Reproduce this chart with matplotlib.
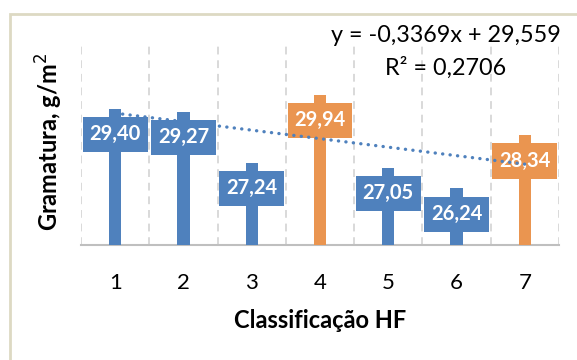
import matplotlib.pyplot as plt
import numpy as np
from matplotlib.patches import Rectangle

# data
classes = [1, 2, 3, 4, 5, 6, 7]
gramatura = [29.40, 29.27, 27.24, 29.94, 27.05, 26.24, 28.34]
highlight = [False, False, False, True, False, False, True]
eq_line = "y = -0,3369x + 29,559"
r2_line = "R² = 0,2706"

blue = '#4F81BD'
orange = '#EA9550'
plt.rcParams['font.family'] = ['Lato', 'DejaVu Sans']

fig = plt.figure(figsize=(5.77, 3.6), dpi=100)
ax = fig.add_axes([81/577, 115/360, 478/577, 202/360])

cols = [orange if h else blue for h in highlight]
ax.bar(classes, gramatura, width=0.18, color=cols, zorder=3)

# data label boxes
for x, v, h in zip(classes, gramatura, highlight):
    z = 4 if h else 6
    c = orange if h else blue
    ax.add_patch(Rectangle((x - 0.475, v - 0.32 - 1.39), 0.95, 1.39,
                           facecolor=c, edgecolor='none', zorder=z))
    ax.text(x, v - 1.0, f"{v:.2f}".replace('.', ','), ha='center', va='center',
            color='white', fontsize=14.5, fontweight='bold', zorder=z + 0.5)

# linear trend
k, b = np.polyfit(classes, gramatura, 1)
xt = np.array([classes[0], classes[-1]])
ax.plot(xt, k * xt + b, color=blue, lw=2.4, linestyle=(0, (0.05, 2.2)),
        dash_capstyle='round', zorder=5)

ax.text(5.84, 32.28, eq_line, ha='center', va='center', fontsize=16.8,
        zorder=7, clip_on=False)
ax.text(5.84, 31.01, r2_line, ha='center', va='center', fontsize=16.8,
        zorder=7, clip_on=False)

# vertical dashed grid between categories
for g in np.arange(0.5, 7.6, 1):
    ax.axvline(g, color='#D9D9D9', lw=1.4, linestyle=(0, (4, 3)), zorder=1)

ax.set_xlim(0.5, 7.5)
ax.set_ylim(24, 32)
ax.set_xticks(classes)
ax.set_yticks([])
ax.tick_params(axis='x', length=0, pad=20, labelsize=16)
for s in ['top', 'right', 'left']:
    ax.spines[s].set_visible(False)
ax.spines['bottom'].set_color('#BFBFBF')
ax.spines['bottom'].set_linewidth(1.5)

ax.set_xlabel('Classificação HF', fontsize=17, fontweight='bold', labelpad=12)
ax.set_ylabel('Gramatura, g/m$^2$', fontsize=17, fontweight='bold')
ax.yaxis.set_label_coords(-0.033, 0.51)

# chart area border
fig.patches.append(Rectangle((10/577, -0.2), 1.2, 1.2 - 14/360,
                             transform=fig.transFigure, fill=False,
                             edgecolor='#DDD9C3', lw=2))

fig.savefig('out.png', dpi=100)
